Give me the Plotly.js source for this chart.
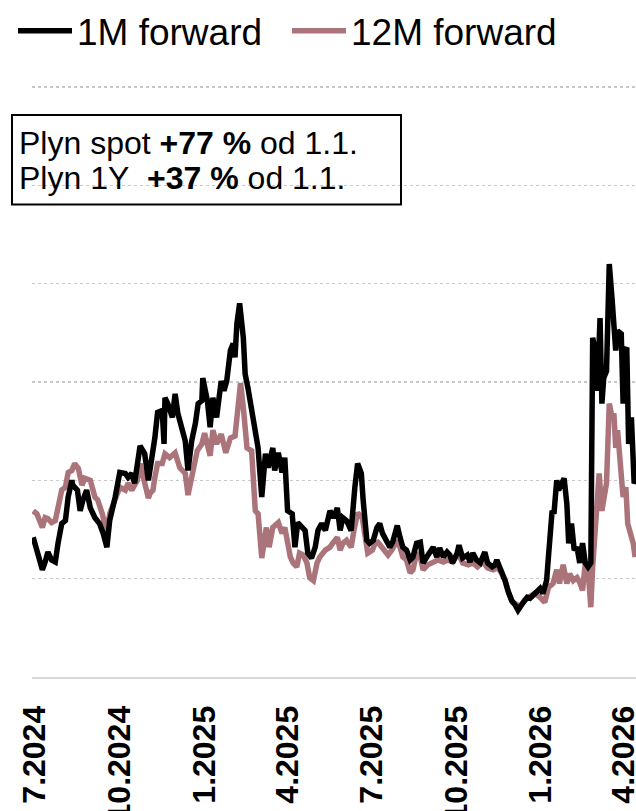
<!DOCTYPE html>
<html>
<head>
<meta charset="utf-8">
<script src="https://cdn.plot.ly/plotly-3.0.1.min.js"></script>
<style>
  html, body { margin: 0; padding: 0; background: #ffffff; }
  #chart { width: 636px; height: 811px; }
</style>
</head>
<body>
<div id="chart"></div>
<script>
// ---- Data ----
const seriesNames = ["1M forward", "12M forward"];

const datesM1 = [
  "2024-06-29","2024-07-03","2024-07-09","2024-07-12","2024-07-15","2024-07-19","2024-07-23","2024-07-26","2024-07-30",
  "2024-08-03","2024-08-06","2024-08-10","2024-08-11","2024-08-16","2024-08-19","2024-08-22","2024-08-26","2024-08-30",
  "2024-09-04","2024-09-09","2024-09-13","2024-09-17","2024-09-20","2024-09-26",
  "2024-10-01","2024-10-07","2024-10-10","2024-10-14","2024-10-17","2024-10-23","2024-10-28",
  "2024-11-01","2024-11-06","2024-11-08","2024-11-11","2024-11-16","2024-11-18","2024-11-19","2024-11-22","2024-11-27","2024-11-30",
  "2024-12-03","2024-12-07","2024-12-11","2024-12-14","2024-12-18","2024-12-22","2024-12-25","2024-12-29","2024-12-30",
  "2025-01-04","2025-01-07","2025-01-10","2025-01-14","2025-01-19","2025-01-22","2025-01-25","2025-01-29",
  "2025-02-01","2025-02-03","2025-02-05","2025-02-08","2025-02-12","2025-02-14","2025-02-17","2025-02-21","2025-02-25","2025-02-28",
  "2025-03-04","2025-03-08","2025-03-11","2025-03-15","2025-03-16","2025-03-18","2025-03-22","2025-03-26","2025-03-29",
  "2025-04-01","2025-04-06","2025-04-09","2025-04-12","2025-04-17","2025-04-20","2025-04-23","2025-04-27",
  "2025-05-01","2025-05-04","2025-05-08","2025-05-12","2025-05-17","2025-05-21","2025-05-25","2025-05-28","2025-05-31",
  "2025-06-04","2025-06-09","2025-06-11","2025-06-13","2025-06-16","2025-06-20","2025-06-22","2025-06-26","2025-06-29",
  "2025-07-03","2025-07-07","2025-07-10","2025-07-13","2025-07-18","2025-07-21","2025-07-24","2025-07-29",
  "2025-08-01","2025-08-04","2025-08-08","2025-08-12","2025-08-15","2025-08-19","2025-08-23","2025-08-26","2025-08-30",
  "2025-09-02","2025-09-06","2025-09-10","2025-09-13","2025-09-17","2025-09-21","2025-09-24","2025-09-27",
  "2025-10-02","2025-10-04","2025-10-08","2025-10-13","2025-10-16","2025-10-19","2025-10-23","2025-10-27",
  "2025-11-01","2025-11-04","2025-11-09","2025-11-12","2025-11-14","2025-11-18","2025-11-23","2025-11-26","2025-11-30",
  "2025-12-04","2025-12-07","2025-12-12","2025-12-17","2025-12-20","2025-12-25","2025-12-31",
  "2026-01-03","2026-01-07","2026-01-09","2026-01-13","2026-01-15","2026-01-18","2026-01-20","2026-01-24","2026-01-26","2026-01-29","2026-01-31",
  "2026-02-03","2026-02-06","2026-02-09","2026-02-12","2026-02-15","2026-02-18","2026-02-21","2026-02-24","2026-02-26","2026-02-28",
  "2026-03-03","2026-03-06","2026-03-08","2026-03-10","2026-03-13","2026-03-16","2026-03-19","2026-03-21","2026-03-23","2026-03-25","2026-03-29","2026-03-31",
  "2026-04-02","2026-04-04","2026-04-06","2026-04-09","2026-04-12","2026-04-14"
];
const valuesM1 = [
  34.2,32.9,30.9,31.7,32.7,31.9,31.7,33.6,35.6,
  35.9,38.3,40.0,39.5,39.0,36.9,38.0,39.0,37.2,
  36.2,35.6,34.6,33.2,35.9,38.3,
  40.8,40.7,40.3,40.7,39.7,43.5,42.7,
  40.0,42.7,44.3,46.9,47.1,43.7,48.4,47.8,46.4,48.8,
  46.8,45.4,44.0,41.0,44.0,45.8,47.8,48.1,50.4,
  48.1,45.4,48.4,46.4,50.1,49.1,50.1,53.2,
  53.9,52.5,55.9,58.0,54.5,50.8,49.4,47.3,45.1,43.3,
  38.3,42.7,41.3,42.7,43.3,41.0,42.8,40.8,42.3,
  36.9,36.6,33.2,35.7,35.2,34.9,32.6,32.1,
  33.2,34.9,35.6,34.9,36.9,36.2,37.2,34.9,36.2,
  35.9,34.9,38.0,39.3,41.7,40.7,38.0,33.9,33.6,
  33.9,35.2,35.6,34.6,33.6,33.2,33.7,35.4,
  34.2,33.2,32.9,31.9,32.2,33.6,33.7,31.6,32.2,
  32.7,33.2,32.2,33.1,32.2,32.7,32.4,31.6,
  32.6,33.4,32.1,32.4,31.7,32.6,31.9,31.6,
  32.7,31.6,31.2,31.4,31.9,31.1,29.8,28.8,27.8,
  27.3,26.8,27.5,28.1,28.0,28.5,29.0,
  28.5,29.8,32.2,36.9,36.6,40.0,39.0,40.0,40.2,37.6,33.6,
  35.6,32.9,33.2,31.6,33.6,31.6,31.2,31.6,54.5,53.5,
  49.1,56.5,47.8,50.4,51.1,62.0,58.5,55.2,53.2,55.2,54.9,47.8,
  53.2,53.5,43.7,46.4,39.7,40.0
];

const datesM12 = [
  "2024-06-29","2024-07-03","2024-07-09","2024-07-12","2024-07-15","2024-07-19","2024-07-23","2024-07-26","2024-07-30",
  "2024-08-03","2024-08-06","2024-08-10","2024-08-13","2024-08-17","2024-08-21","2024-08-24","2024-08-30",
  "2024-09-04","2024-09-07","2024-09-12","2024-09-17","2024-09-20","2024-09-26",
  "2024-10-01","2024-10-07","2024-10-10","2024-10-14","2024-10-20","2024-10-23","2024-10-28",
  "2024-11-01","2024-11-03","2024-11-06","2024-11-08","2024-11-11","2024-11-16","2024-11-19","2024-11-24","2024-11-30",
  "2024-12-05","2024-12-11","2024-12-14","2024-12-18","2024-12-24","2024-12-29",
  "2025-01-01","2025-01-07","2025-01-10","2025-01-14","2025-01-19","2025-01-24","2025-01-29",
  "2025-02-03","2025-02-06","2025-02-09","2025-02-12","2025-02-16","2025-02-21","2025-02-25","2025-02-28",
  "2025-03-04","2025-03-09","2025-03-12","2025-03-16","2025-03-22","2025-03-26","2025-03-29",
  "2025-04-04","2025-04-07","2025-04-11","2025-04-14","2025-04-18","2025-04-22","2025-04-25","2025-04-29",
  "2025-05-03","2025-05-06","2025-05-12","2025-05-17","2025-05-20","2025-05-25","2025-05-28","2025-05-31",
  "2025-06-04","2025-06-09","2025-06-12","2025-06-16","2025-06-21","2025-06-24","2025-06-27",
  "2025-07-02","2025-07-05","2025-07-08","2025-07-12","2025-07-16","2025-07-19","2025-07-23","2025-07-29",
  "2025-08-01","2025-08-04","2025-08-08","2025-08-12","2025-08-15","2025-08-19","2025-08-23","2025-08-26","2025-08-31",
  "2025-09-06","2025-09-11","2025-09-17","2025-09-22","2025-09-27",
  "2025-10-03","2025-10-08","2025-10-14","2025-10-19","2025-10-24","2025-10-30",
  "2025-11-04","2025-11-10","2025-11-15","2025-11-19","2025-11-23","2025-11-27",
  "2025-12-01","2025-12-07","2025-12-09","2025-12-14","2025-12-20","2025-12-25","2025-12-31",
  "2026-01-05","2026-01-09","2026-01-14","2026-01-18","2026-01-21","2026-01-25","2026-01-29",
  "2026-02-01","2026-02-05","2026-02-09","2026-02-12","2026-02-15","2026-02-18","2026-02-21","2026-02-24","2026-02-26",
  "2026-03-01","2026-03-05","2026-03-08","2026-03-10","2026-03-13","2026-03-16","2026-03-19","2026-03-21","2026-03-23","2026-03-25","2026-03-29","2026-03-31",
  "2026-04-03","2026-04-05","2026-04-08","2026-04-11","2026-04-13"
];
const valuesM12 = [
  36.9,36.6,35.2,36.2,36.1,35.7,35.9,37.2,39.0,
  39.3,40.8,41.0,41.7,41.2,39.5,40.2,40.0,
  38.3,38.0,36.6,34.6,36.6,38.0,
  39.3,39.0,39.7,39.0,40.0,41.7,40.0,
  38.2,38.7,39.0,40.3,41.7,41.7,42.7,42.3,42.8,
  41.3,40.7,38.5,40.3,43.0,43.7,
  44.8,42.5,45.1,43.7,44.7,42.8,44.3,
  44.5,47.8,49.9,47.4,43.3,43.0,36.9,36.6,
  32.1,35.2,33.2,35.2,35.7,34.6,35.2,
  32.2,31.6,31.2,32.6,32.4,31.6,30.1,29.8,
  31.6,32.2,32.9,33.2,33.6,34.2,32.9,33.6,
  33.9,33.2,34.9,36.7,36.2,33.9,32.6,
  32.9,33.6,33.7,33.2,32.7,32.4,32.9,33.9,
  33.2,32.2,31.9,30.6,30.9,32.6,32.2,30.9,31.4,
  31.7,31.9,31.7,31.9,31.7,
  32.6,31.6,31.4,31.6,31.2,31.7,
  31.1,30.9,31.1,30.6,29.8,28.5,
  27.6,27.3,27.1,27.8,28.1,28.5,28.1,
  27.6,29.1,29.5,30.9,29.5,31.4,29.5,
  30.5,29.8,30.1,29.6,28.8,31.6,30.9,27.1,31.2,
  35.6,40.7,36.9,38.0,39.7,47.8,46.4,46.8,43.3,45.1,40.0,38.3,
  39.3,35.6,34.6,33.6,32.2
];

const tickDates = ["2024-07-01","2024-10-01","2025-01-01","2025-04-01","2025-07-01","2025-10-01","2026-01-01","2026-04-01"];
const tickLabels = ["7.2024","10.2024","1.2025","4.2025","7.2025","10.2025","1.2026","4.2026"];

const noteLines = [
  "Plyn spot <b>+77 %</b> od 1.1.",
  "Plyn 1Y&nbsp; <b>+37 %</b> od 1.1."
];

const colors = ["#000000", "#AB747B"];

// ---- Chart ----
const FONT = "Liberation Sans, Arial, sans-serif";
const W = 636, H = 811;
const M = {l: 32, r: 0, t: 81, b: 134};
const pw = W - M.l - M.r, ph = H - M.t - M.b;
const px2x = p => (p - M.l) / pw;
const py2y = p => (H - M.b - p) / ph;

const traces = [
  {x: datesM1, y: valuesM1, name: seriesNames[0], type: "scatter", mode: "lines",
   line: {color: colors[0], width: 5.5}},
  {x: datesM12, y: valuesM12, name: seriesNames[1], type: "scatter", mode: "lines",
   line: {color: colors[1], width: 5.5}}
];
// draw 1M on top
const data = [traces[1], traces[0]];

const layout = {
  width: W, height: H,
  margin: M,
  paper_bgcolor: "#ffffff", plot_bgcolor: "#ffffff",
  font: {family: FONT, color: "#000000"},
  showlegend: true,
  legend: {
    orientation: "h", traceorder: "reversed",
    x: px2x(13), xanchor: "left",
    y: py2y(-2), yanchor: "top",
    font: {family: FONT, size: 37, color: "#000000"},
    bgcolor: "rgba(0,0,0,0)", borderwidth: 0,
    itemwidth: 54,
    entrywidth: 205, entrywidthmode: "pixels"
  },
  xaxis: {
    type: "date",
    range: ["2024-06-27 18:00", "2026-04-14"],
    tickmode: "array", tickvals: tickDates, ticktext: tickLabels,
    tickangle: -90, ticklabeloverflow: "allow", ticklabelstandoff: 14,
    tickfont: {family: FONT, size: 32, weight: "bold", color: "#000000"},
    ticks: "", showgrid: false, zeroline: false,
    showline: true, linecolor: "#d9d9d9", linewidth: 2,
    fixedrange: true
  },
  yaxis: {
    range: [20, 80.4], dtick: 10, tick0: 0,
    showticklabels: false, ticks: "",
    showgrid: true, gridcolor: "#c8c8c8", gridwidth: 1.5, griddash: "dot",
    zeroline: false, showline: false, fixedrange: true
  },
  shapes: [
    {type: "rect", xref: "paper", yref: "paper",
     x0: px2x(12), x1: px2x(401), y0: py2y(203), y1: py2y(113),
     line: {color: "#000000", width: 2}, fillcolor: "rgba(0,0,0,0)"}
  ],
  annotations: [
    {xref: "paper", yref: "paper", x: px2x(17), y: py2y(141), xanchor: "left", yanchor: "middle",
     text: noteLines[0], showarrow: false, align: "left",
     font: {family: FONT, size: 32, color: "#000000"}},
    {xref: "paper", yref: "paper", x: px2x(17), y: py2y(176), xanchor: "left", yanchor: "middle",
     text: noteLines[1], showarrow: false, align: "left",
     font: {family: FONT, size: 32, color: "#000000"}}
  ]
};

Plotly.newPlot("chart", data, layout, {displayModeBar: false, staticPlot: true});
</script>
</body>
</html>
